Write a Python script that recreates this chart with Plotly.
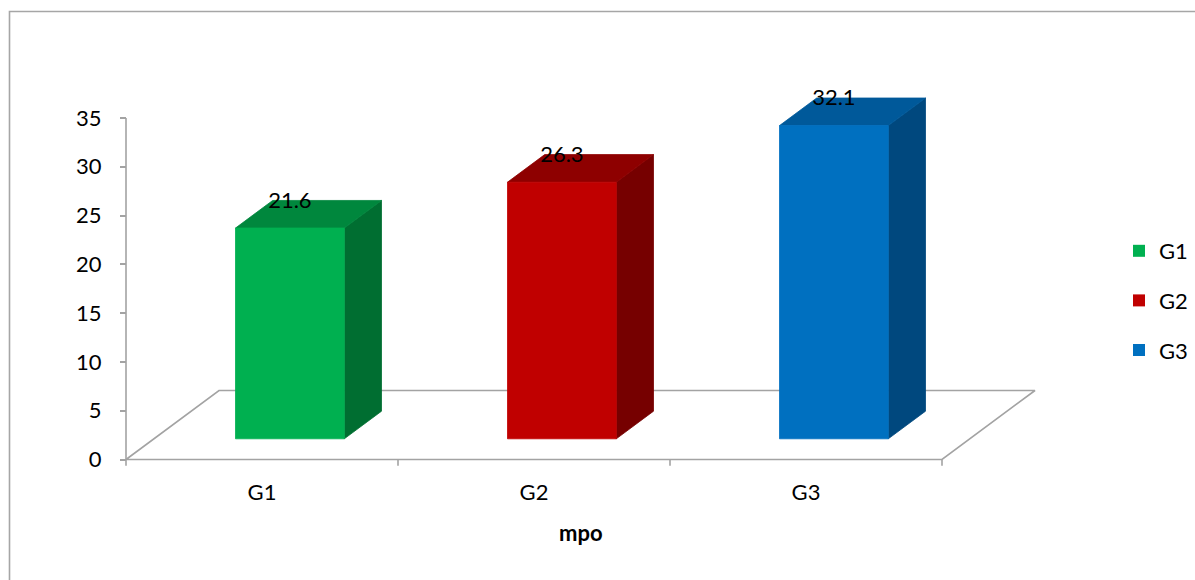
import plotly.graph_objects as go

# --- data ---
categories = ["G1", "G2", "G3"]
values = [21.6, 26.3, 32.1]
front_colors = ["#00B050", "#C00000", "#0070C0"]
top_colors = ["#00873D", "#8E0000", "#00599A"]
side_colors = ["#006E31", "#760000", "#00487E"]
y_ticks = [0, 5, 10, 15, 20, 25, 30, 35]
x_title = "mpo"

# --- oblique projection settings (category units / value units) ---
W, H = 1195, 580
PX0, PY0 = 126.0, 459.5          # pixel position of the front-left floor corner
PX_PER_CAT = 272.0
PX_PER_VAL = 9.757
DEPTH_DX = 93.0 / PX_PER_CAT     # horizontal shift for full depth
DEPTH_DY = 69.0 / PX_PER_VAL     # vertical shift for full depth
Z_FRONT, Z_BACK = 0.3, 0.7       # bar depth span
BAR_L, BAR_R = 0.3, 0.7          # bar span inside its category
N = len(categories)

GRAY = "#A3A3A3"
FONT = "Lato, 'Open Sans', sans-serif"
FSIZE = 22

fig = go.Figure()


def poly(xs, ys, color, line_color=None):
    fig.add_trace(go.Scatter(
        x=xs + [xs[0]], y=ys + [ys[0]], mode="lines", fill="toself",
        fillcolor=color, line=dict(color=line_color or color, width=0.8),
        hoverinfo="skip", showlegend=False))


def seg(xs, ys, width=1.6):
    fig.add_trace(go.Scatter(x=xs, y=ys, mode="lines",
                             line=dict(color=GRAY, width=width),
                             hoverinfo="skip", showlegend=False))


# floor outline
seg([0, N, N + DEPTH_DX, DEPTH_DX, 0], [0, 0, DEPTH_DY, DEPTH_DY, 0])
# vertical axis line
seg([0, 0], [0, y_ticks[-1]])
# category tick marks below the front floor edge
for k in range(N + 1):
    seg([k, k], [0, -0.65])

# 3D columns
a0, b0 = Z_FRONT * DEPTH_DX, Z_FRONT * DEPTH_DY
a1, b1 = Z_BACK * DEPTH_DX, Z_BACK * DEPTH_DY
for i, v in enumerate(values):
    x0, x1 = i + BAR_L, i + BAR_R
    # right side face
    poly([x1 + a0, x1 + a1, x1 + a1, x1 + a0],
         [b0, b1, v + b1, v + b0], side_colors[i])
    # top face
    poly([x0 + a0, x1 + a0, x1 + a1, x0 + a1],
         [v + b0, v + b0, v + b1, v + b1], top_colors[i])
    # front face
    poly([x0 + a0, x1 + a0, x1 + a0, x0 + a0],
         [b0, b0, v + b0, v + b0], front_colors[i])

# value labels above each column
LABEL_GAP = 26.0 / PX_PER_VAL
fig.add_trace(go.Scatter(
    x=[i + (BAR_L + BAR_R) / 2 + a0 for i in range(N)],
    y=[v + b0 + LABEL_GAP for v in values],
    text=[f"{v:.1f}" for v in values], mode="text",
    textfont=dict(family=FONT, size=FSIZE, color="#000000"),
    hoverinfo="skip", showlegend=False, cliponaxis=False))

# category labels
fig.add_trace(go.Scatter(
    x=[i + 0.5 for i in range(N)], y=[-35.0 / PX_PER_VAL] * N,
    text=categories, mode="text",
    textfont=dict(family=FONT, size=FSIZE, color="#000000"),
    hoverinfo="skip", showlegend=False, cliponaxis=False))

# legend entries
for i, c in enumerate(categories):
    fig.add_trace(go.Scatter(
        x=[None], y=[None], mode="markers", name=c, legendgroup=c,
        marker=dict(symbol="square", size=15, color=front_colors[i]),
        hoverinfo="skip"))

fig.add_annotation(
    x=(N + DEPTH_DX) / 2, y=-72.5 / PX_PER_VAL, xref="x", yref="y",
    text=f"<b>{x_title}</b>", showarrow=False,
    font=dict(family=FONT, size=FSIZE, color="#000000"))

# outer chart frame
fig.add_shape(type="rect", xref="paper", yref="paper",
              x0=9.5 / W, x1=1.02, y0=-0.02, y1=1 - 11.5 / H,
              line=dict(color="#A6A6A6", width=1.6), layer="below")

fig.update_layout(
    width=W, height=H,
    margin=dict(l=0, r=0, t=0, b=0),
    paper_bgcolor="#FFFFFF", plot_bgcolor="rgba(0,0,0,0)",
    showlegend=True,
    legend=dict(x=1119 / W, y=1 - 230 / H, xanchor="left", yanchor="top",
                font=dict(family=FONT, size=FSIZE, color="#000000"),
                tracegroupgap=18, itemsizing="constant",
                bgcolor="rgba(0,0,0,0)"),
    xaxis=dict(range=[-PX0 / PX_PER_CAT, (W - PX0) / PX_PER_CAT],
               domain=[0, 1], visible=False, fixedrange=True),
    yaxis=dict(range=[(PY0 - H) / PX_PER_VAL, PY0 / PX_PER_VAL],
               domain=[0, 1], anchor="free", position=PX0 / W,
               tickvals=y_ticks, ticktext=[str(t) for t in y_ticks],
               ticks="outside", ticklen=6, tickwidth=1.5, tickcolor=GRAY,
               ticklabelstandoff=14,
               showgrid=False, zeroline=False, showline=False,
               tickfont=dict(family=FONT, size=FSIZE, color="#000000"),
               fixedrange=True),
)

fig.write_html("out.html")
